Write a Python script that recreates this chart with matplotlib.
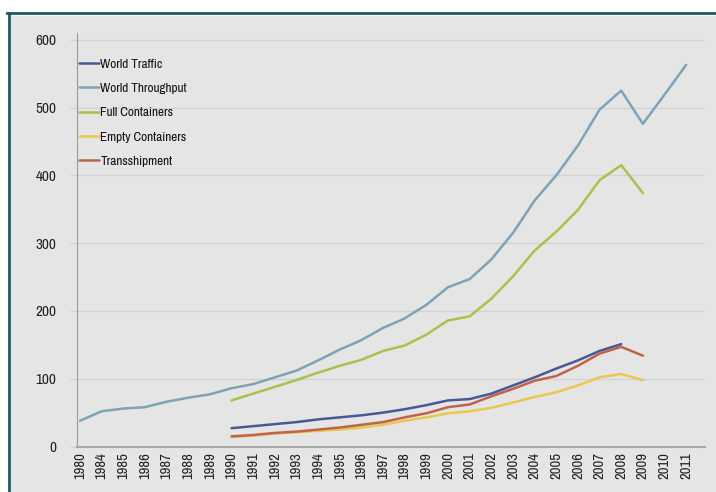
import matplotlib
matplotlib.use("Agg")
import matplotlib.pyplot as plt
from matplotlib import font_manager
from matplotlib.lines import Line2D
from matplotlib.patches import Rectangle
import numpy as np

# the original uses a very condensed face; take a narrow one if there is any
narrow = [f.name for f in font_manager.fontManager.ttflist
          if "Narrow" in f.name or "Condensed" in f.name]
narrow += [f.name for f in font_manager.fontManager.ttflist
           if f.stretch in ("condensed", "semi-condensed", "extra-condensed", "ultra-condensed")]
base_font = narrow[0] if narrow else "Liberation Sans"
plt.rcParams['font.family'] = [base_font, 'DejaVu Sans']
condensed = bool(narrow)

# Years on the category axis (1981-1983 missing in the source)
years = ["1980"] + [str(y) for y in range(1984, 2012)]

# Series values (million TEU)
world_throughput = [38, 52, 56, 58, 66, 72, 77, 86, 92, 102, 112, 127, 143, 157,
                    175, 189, 209, 235, 247, 276, 315, 363, 400, 444, 497, 525,
                    476, 519, 563]
# the rest start in 1990
world_traffic = [27, 30, 33, 36, 40, 43, 46, 50, 55, 61, 68, 70, 78, 90, 102,
                 115, 127, 141, 151]
full_containers = [68, 78, 88, 98, 109, 119, 128, 141, 149, 165, 186, 192, 218,
                   251, 289, 317, 349, 393, 415, 374]
empty_containers = [14, 16, 19, 21, 23, 25, 28, 32, 38, 43, 49, 52, 57, 65, 73,
                    80, 90, 102, 107, 98]
transshipment = [15, 17, 20, 22, 25, 28, 32, 36, 43, 49, 58, 62, 74, 85, 97,
                 104, 119, 137, 147, 134]

start = years.index("1990")
x_all = np.arange(len(years))

fig = plt.figure(figsize=(7.16, 4.92), dpi=100)
fig.patch.set_facecolor("white")

# grey panel with dark teal frame on left and top
bg = "#e5e5e5"
fig.patches.append(Rectangle((11 / 716, 0), 1, 1 - 16 / 492, transform=fig.transFigure,
                             facecolor=bg, edgecolor="none", zorder=-2))
fig.lines.append(Line2D([8.5 / 716, 8.5 / 716], [0, 1 - 13 / 492], transform=fig.transFigure,
                        color="#1f5864", linewidth=2, zorder=-1))
fig.lines.append(Line2D([7.5 / 716, 1], [1 - 13 / 492, 1 - 13 / 492], transform=fig.transFigure,
                        color="#1f5864", linewidth=2, zorder=-1))

ax = fig.add_axes([77 / 716, 45.5 / 492, 628 / 716, 413.5 / 492])
ax.set_facecolor(bg)

series = [
    ("World Traffic", world_traffic, "#4a5894"),
    ("World Throughput", world_throughput, "#7ea3b7"),
    ("Full Containers", full_containers, "#a8c24c"),
    ("Empty Containers", empty_containers, "#e9c84e"),
    ("Transshipment", transshipment, "#c0634c"),
]
for name, vals, col in series:
    xs = x_all[:len(vals)] if len(vals) == len(years) else x_all[start:start + len(vals)]
    ax.plot(xs, vals, color=col, linewidth=1.8, label=name, solid_capstyle="round")

fs_tick = 10.5 if condensed else 8
fs_leg = 9.5 if condensed else 7.5

ax.set_xlim(-0.14, 28.87)
ax.set_ylim(0, 610)
ax.set_yticks(range(0, 601, 100))
ax.set_xticks(x_all)
ax.set_xticklabels(years, rotation=90, fontsize=fs_tick, color="#222222")
ax.tick_params(axis="y", length=5, color="#d2d2d2", width=1, labelsize=fs_tick + 0.5,
               labelcolor="#222222", pad=10)
ax.tick_params(axis="x", length=0, pad=4)
ax.grid(axis="y", color="#d2d2d2", linewidth=1)
ax.set_axisbelow(True)

for side in ["top", "right"]:
    ax.spines[side].set_visible(False)
ax.spines["left"].set_color("#9a9a9a")
ax.spines["bottom"].set_color("#a8a8a8")
ax.spines["bottom"].set_linewidth(1.5)

leg = ax.legend(loc="upper left", bbox_to_anchor=(-0.005, 0.951), frameon=False,
                handlelength=1.6 * 9 / fs_leg, handletextpad=0.1,
                labelspacing=(24.3 / 1.389 - fs_leg * 1.0) / fs_leg + 0.15,
                fontsize=fs_leg, borderaxespad=0)
for t in leg.get_texts():
    t.set_color("#111111")

fig.savefig("out.png", dpi=100, facecolor=fig.get_facecolor())
